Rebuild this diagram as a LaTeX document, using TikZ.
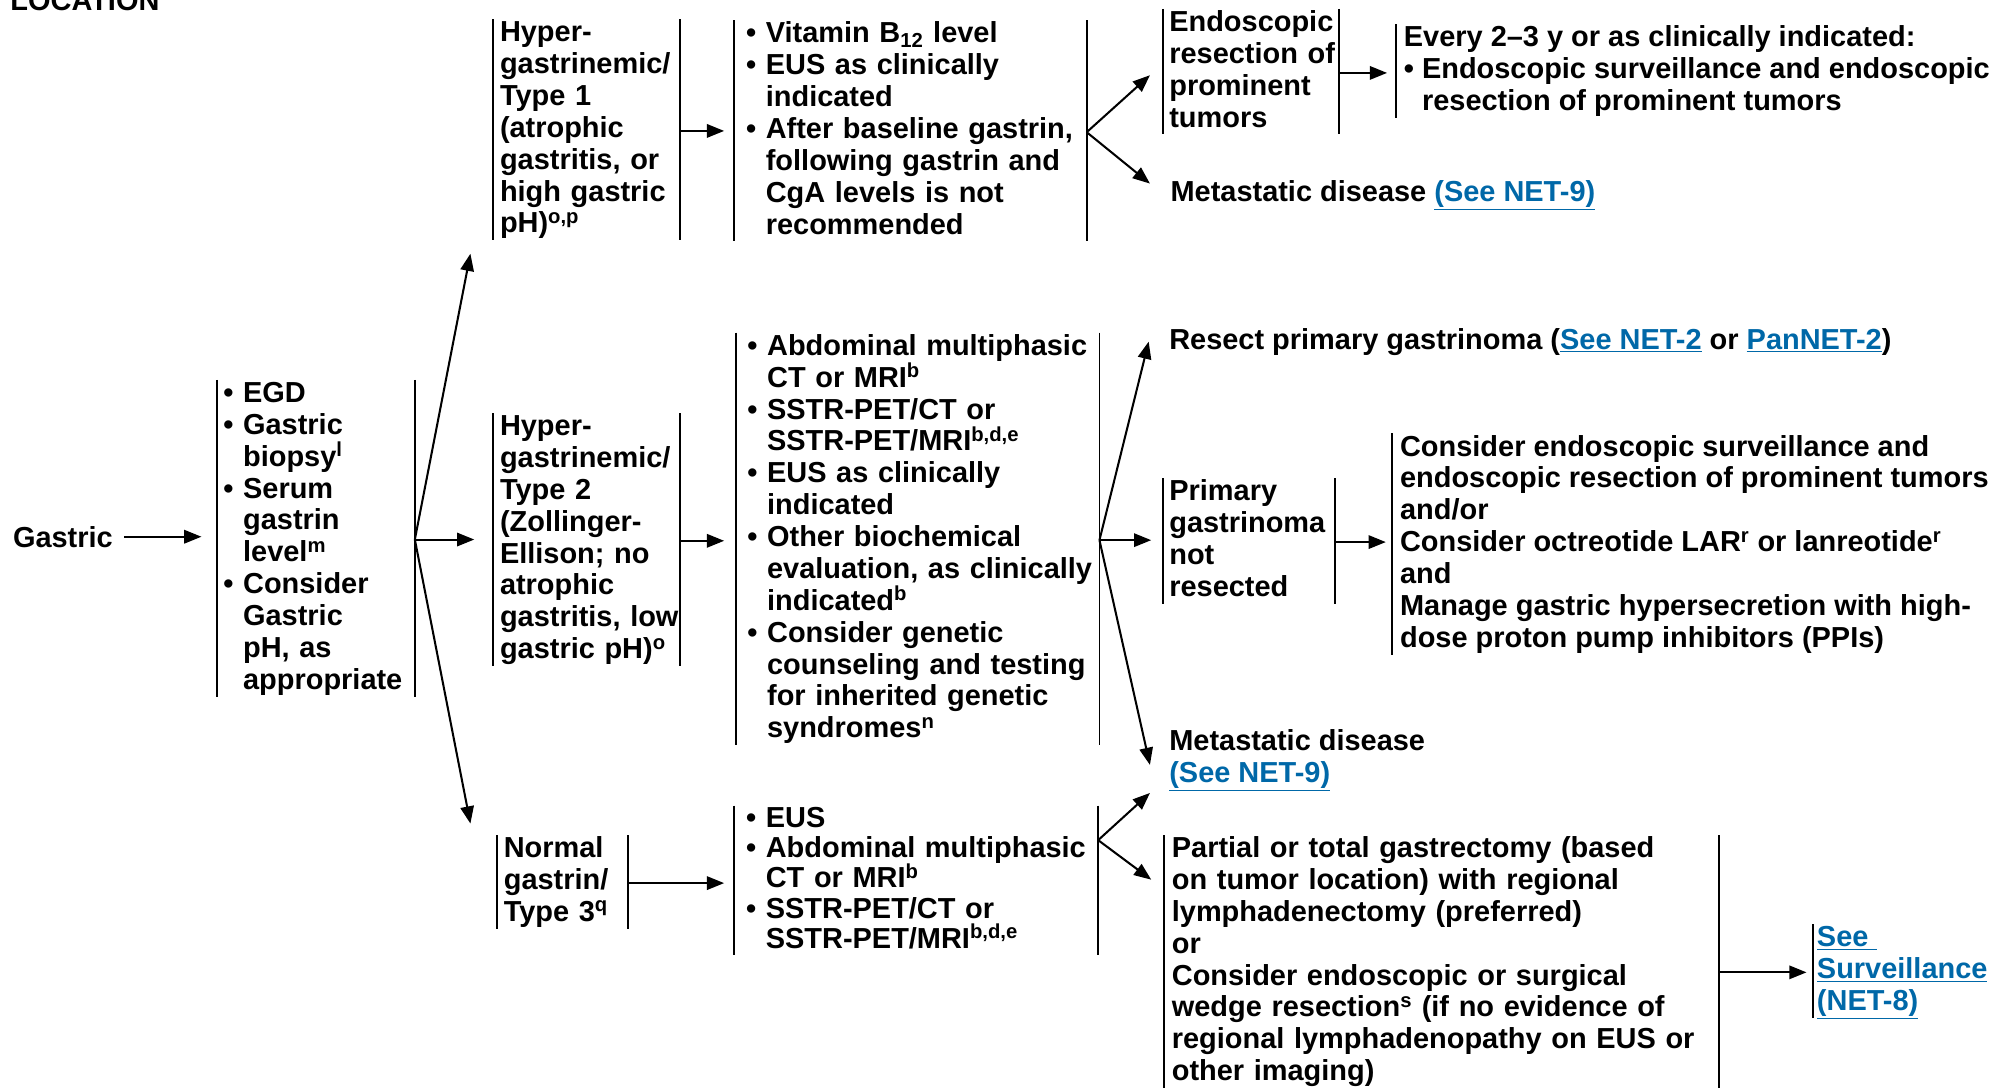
\documentclass[tikz,border=0pt]{standalone}
\usepackage{fontspec}
\setmainfont{Liberation Sans}
\usetikzlibrary{arrows.meta}
\definecolor{linkblue}{RGB}{0,104,168}
\newcommand\nfont{\fontsize{22.7}{25}\selectfont\bfseries}
\newcommand\fnm[1]{\smash{\textsuperscript{#1}}}
\newcommand\lnk[1]{\textcolor{linkblue}{\smash{\underline{#1}}}}
\newcommand\bu{\textbullet\ }
\newcommand\bc{\hphantom{\textbullet\ }}
\newcommand\rows[1]{\begin{tabular}{@{}l@{}}#1\end{tabular}}

\begin{document}
\begin{tikzpicture}[x=1pt,y=-1pt,
  txt/.style={inner sep=0pt, font=\nfont},
  cell/.style={anchor=north west, inner xsep=5pt, inner ysep=0pt, align=left, font=\nfont},
  bar/.style={line width=1.4pt, shorten >=2pt},
  arr/.style={line width=1.6pt, -{Triangle[length=13.5pt,width=10.5pt]}}]

\useasboundingbox (0,0) rectangle (1568,853);

\node[txt, anchor=base west] (loc) at (8,8) {LOCATION};
\node[txt, anchor=west] (gastric) at (10,421) {Gastric};

% initial work-up
\node[cell, text width=145pt] (eval) at (170,298) {\rows{\bu EGD\\ \bu Gastric\\ \bc biopsy\fnm{l}\\ \bu Serum\\ \bc gastrin\\ \bc level\fnm{m}\\ \bu Consider\\ \bc Gastric\\ \bc pH, as\\ \bc appropriate}};

% types
\node[cell, text width=136pt] (type1) at (387,15) {\rows{Hyper-\\ gastrinemic/\\ Type 1\\ (atrophic\\ gastritis, or\\ high gastric\\ pH)\fnm{o,p}}};
\node[cell, text width=136pt] (type2) at (387,324) {\rows{Hyper-\\ gastrinemic/\\ Type 2\\ (Zollinger-\\ Ellison; no\\ atrophic\\ gastritis, low\\ gastric pH)\fnm{o}}};
\node[cell, text width=92pt] (type3) at (390,655) {\rows{Normal\\ gastrin/\\ Type 3\fnm{q}}};

% work-up by type
\node[cell, inner xsep=9pt, text width=258pt] (vit) at (576,16) {\rows{\bu Vitamin B\textsubscript{12} level\\ \bu EUS as clinically\\ \bc indicated\\ \bu After baseline gastrin,\\ \bc following gastrin and\\ \bc CgA levels is not\\ \bc recommended}};
\node[cell, inner xsep=9pt, text width=267pt] (work2) at (577,261) {\rows{\bu Abdominal multiphasic\\ \bc CT or MRI\fnm{b}\\ \bu SSTR-PET/CT or\\ \bc SSTR-PET/MRI\fnm{b,d,e}\\ \bu EUS as clinically\\ \bc indicated\\ \bu Other biochemical\\ \bc evaluation, as clinically\\ \bc indicated\fnm{b}\\ \bu Consider genetic\\ \bc counseling and testing\\ \bc for inherited genetic\\ \bc syndromes\fnm{n}}};
\node[cell, inner xsep=9pt, text width=267pt] (work3) at (576,632) {\renewcommand\arraystretch{0.95}\rows{\bu EUS\\ \bu Abdominal multiphasic\\ \bc CT or MRI\fnm{b}\\ \bu SSTR-PET/CT or\\ \bc SSTR-PET/MRI\fnm{b,d,e}}};

% outcomes
\node[cell, text width=128pt] (endo) at (912,7) {\rows{Endoscopic\\ resection of\\ prominent\\ tumors}};
\node[cell, inner xsep=6pt] (every) at (1095,19) {\rows{Every 2--3 y or as clinically indicated:\\ \bu Endoscopic surveillance and endoscopic\\ \bc resection of prominent tumors}};
\node[txt, anchor=west] (met1) at (918,150) {Metastatic disease \lnk{(See NET-9)}};
\node[txt, anchor=west] (resect) at (917,268) {Resect primary gastrinoma (\lnk{See NET-2} or \lnk{PanNET-2})};
\node[cell, text width=125pt] (prim) at (912,375) {\rows{Primary\\ gastrinoma\\ not\\ resected}};
\node[cell, inner xsep=6pt] (cons) at (1092,340) {\rows{Consider endoscopic surveillance and\\ endoscopic resection of prominent tumors\\ and/or\\ Consider octreotide LAR\fnm{r} or lanreotide\fnm{r}\\ and\\ Manage gastric hypersecretion with high-\\ dose proton pump inhibitors (PPIs)}};
\node[cell, inner xsep=0pt] (met2) at (917,571) {\rows{Metastatic disease\\ \lnk{(See NET-9)}}};
\node[cell, inner xsep=6pt, text width=423pt] (part) at (913,655) {\rows{Partial or total gastrectomy (based\\ on tumor location) with regional\\ lymphadenectomy (preferred)\\ or\\ Consider endoscopic or surgical\\ wedge resection\fnm{s} (if no evidence of\\ regional lymphadenopathy on EUS or\\ other imaging)}};
\node[cell, inner xsep=3pt] (surv) at (1422,725) {\rows{\lnk{See\ }\\ \lnk{Surveillance}\\ \lnk{(NET-8)}}};

% side bars
\foreach \n in {eval,type1,type2,type3,vit,work2,work3,endo,prim,part}{
  \draw[bar] (\n.north west) -- (\n.south west);
  \draw[bar] (\n.north east) -- (\n.south east);
}
\foreach \n in {every,cons,surv}
  \draw[bar] (\n.north west) -- (\n.south west);

% arrow ends
\coordinate (in1) at (369,199);
\coordinate (in3) at (369,646);
\coordinate (inendo) at (902,59);
\coordinate (inmet1) at (902,144);
\coordinate (inres) at (901,268);
\coordinate (inmet2) at (902,600);
\coordinate (fork3) at ([yshift=-27pt]work3.north east);
\coordinate (inmet3) at (902,622);
\coordinate (inpart) at (903,690);

\draw[arr, shorten <=9pt, shorten >=12pt] (gastric.east) -- (gastric.east -| eval.west);
\draw[arr] (eval.east) -- (in1);
\draw[arr, shorten >=15pt] (eval.east) -- (eval.east -| type2.west);
\draw[arr] (eval.east) -- (in3);

\draw[arr, shorten >=8pt] (type1.east) -- (type1.east -| vit.west);
\draw[arr, shorten >=9pt] (type2.east) -- (type2.east -| work2.west);
\draw[arr, shorten >=8pt] (type3.east) -- (type3.east -| work3.west);

\draw[arr] (vit.east) -- (inendo);
\draw[arr] (vit.east) -- (inmet1);
\draw[arr, shorten >=7pt] (endo.east) -- (endo.east -| every.west);

\draw[arr] (work2.east) -- (inres);
\draw[arr, shorten >=9pt] (work2.east) -- (work2.east -| prim.west);
\draw[arr] (work2.east) -- (inmet2);
\draw[arr, shorten >=5pt] (prim.east) -- (prim.east -| cons.west);

\draw[arr] (fork3) -- (inmet3);
\draw[arr] (fork3) -- (inpart);
\draw[arr, shorten >=5pt] (surv.west -| part.east) -- (surv.west);
\end{tikzpicture}
\end{document}
